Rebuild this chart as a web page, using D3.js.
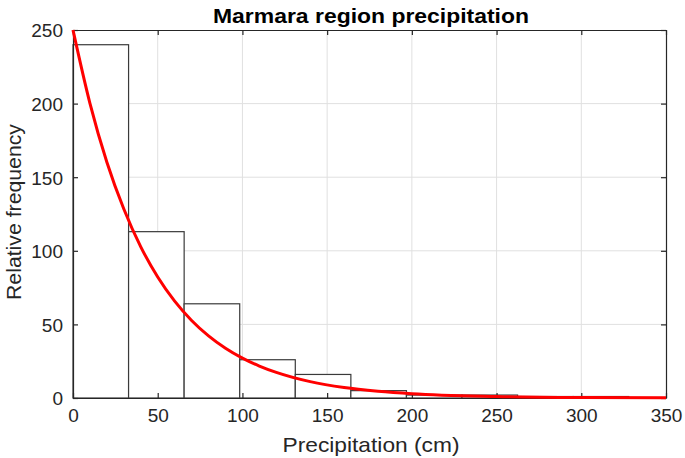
<!DOCTYPE html>
<html>
<head>
<meta charset="utf-8">
<script src="https://cdn.jsdelivr.net/npm/d3@7"></script>
<style>
	body { margin: 0; background: #fff; }
	svg { font-family: "Liberation Sans", Arial, sans-serif; }
</style>
</head>
<body>
<div id="chart"></div>
<script>
(function () {

	// histogram bins (cm) and counts
	var binEdges = [0, 32.8, 65.6, 98.4, 131.2, 164, 196.8, 229.6, 262.4, 295.2, 328];
	var binCounts = [240, 113, 64, 26, 16, 5, 2, 2, 1, 1];

	// fitted curve
	var curveX = [0, 10, 20, 30, 40, 50, 60, 70, 80, 90, 100, 110, 120, 140, 160, 180, 200, 250, 300, 350];
	var curveY = [250, 200.2, 160.2, 128.4, 102.7, 82.2, 65.8, 52.7, 42.2, 33.8, 27.1, 21.7, 17.4, 11.1, 7.1, 4.6, 2.9, 1.0, 0.3, 0.1];

	var xTicks = [0, 50, 100, 150, 200, 250, 300, 350];
	var yTicks = [0, 50, 100, 150, 200, 250];

	var width = 685, height = 458;
	var margin = {top: 30, right: 19, bottom: 60, left: 73};

	var svg = d3.select('#chart')
				.append('svg')
				.attr('width', width)
				.attr('height', height);

	var x = d3.scaleLinear().domain([0, 350]).range([margin.left, width - margin.right]);
	var y = d3.scaleLinear().domain([0, 250]).range([height - margin.bottom, margin.top]);

	// grid
	svg.append('g').selectAll('line')
		.data(xTicks.slice(1, -1))
		.enter().append('line')
		.attr('x1', function(d) { return x(d); })
		.attr('x2', function(d) { return x(d); })
		.attr('y1', y(0)).attr('y2', y(250))
		.attr('stroke', '#e0e0e0').attr('stroke-width', 1);

	svg.append('g').selectAll('line')
		.data(yTicks.slice(1, -1))
		.enter().append('line')
		.attr('y1', function(d) { return y(d); })
		.attr('y2', function(d) { return y(d); })
		.attr('x1', x(0)).attr('x2', x(350))
		.attr('stroke', '#e0e0e0').attr('stroke-width', 1);

	// bars
	svg.append('g').selectAll('rect')
		.data(binCounts)
		.enter().append('rect')
		.attr('x', function(d, i) { return x(binEdges[i]); })
		.attr('width', function(d, i) { return x(binEdges[i + 1]) - x(binEdges[i]); })
		.attr('y', function(d) { return y(d); })
		.attr('height', function(d) { return y(0) - y(d); })
		.attr('fill', '#fff')
		.attr('stroke', '#3a3a3a')
		.attr('stroke-width', 1.2);

	// axes with inward ticks, boxed
	var xAxis = d3.axisBottom(x).tickValues(xTicks).tickSizeInner(-5).tickSizeOuter(0).tickPadding(11);
	var yAxis = d3.axisLeft(y).tickValues(yTicks).tickSizeInner(-5).tickSizeOuter(0).tickPadding(10);

	var gx = svg.append('g').attr('transform', 'translate(0,' + y(0) + ')').call(xAxis);
	var gy = svg.append('g').attr('transform', 'translate(' + x(0) + ',0)').call(yAxis);

	svg.append('g').attr('transform', 'translate(0,' + y(250) + ')')
		.call(d3.axisTop(x).tickValues(xTicks).tickSizeInner(-5).tickSizeOuter(0).tickFormat(''));
	svg.append('g').attr('transform', 'translate(' + x(350) + ',0)')
		.call(d3.axisRight(y).tickValues(yTicks).tickSizeInner(-5).tickSizeOuter(0).tickFormat(''));

	svg.selectAll('.domain, .tick line').attr('stroke', '#262626').attr('stroke-width', 1.2);
	[gx, gy].forEach(function(g) {
		g.selectAll('text')
			.attr('font-size', 19)
			.attr('fill', '#262626')
			.style('font-family', '"Liberation Sans", Arial, sans-serif');
	});
	gx.selectAll('text').attr('dy', '0.71em');
	gy.selectAll('text').attr('dy', '0.36em');

	// fitted curve
	var line = d3.line()
		.x(function(d) { return x(d[0]); })
		.y(function(d) { return y(d[1]); })
		.curve(d3.curveMonotoneX);

	svg.append('path')
		.datum(curveX.map(function(v, i) { return [v, curveY[i]]; }))
		.attr('d', line)
		.attr('fill', 'none')
		.attr('stroke', '#ff0000')
		.attr('stroke-width', 3);

	// labels
	svg.append('text')
		.attr('x', 371).attr('y', 23)
		.attr('text-anchor', 'middle')
		.attr('font-size', 20).attr('font-weight', 'bold')
		.attr('textLength', 316).attr('lengthAdjust', 'spacingAndGlyphs')
		.text('Marmara region precipitation');

	svg.append('text')
		.attr('x', 371).attr('y', 452)
		.attr('text-anchor', 'middle')
		.attr('font-size', 21).attr('fill', '#262626')
		.attr('textLength', 177).attr('lengthAdjust', 'spacingAndGlyphs')
		.text('Precipitation (cm)');

	svg.append('text')
		.attr('transform', 'translate(21,212) rotate(-90)')
		.attr('text-anchor', 'middle')
		.attr('font-size', 21).attr('fill', '#262626')
		.attr('textLength', 176).attr('lengthAdjust', 'spacingAndGlyphs')
		.text('Relative frequency');

}) ();
</script>
</body>
</html>
